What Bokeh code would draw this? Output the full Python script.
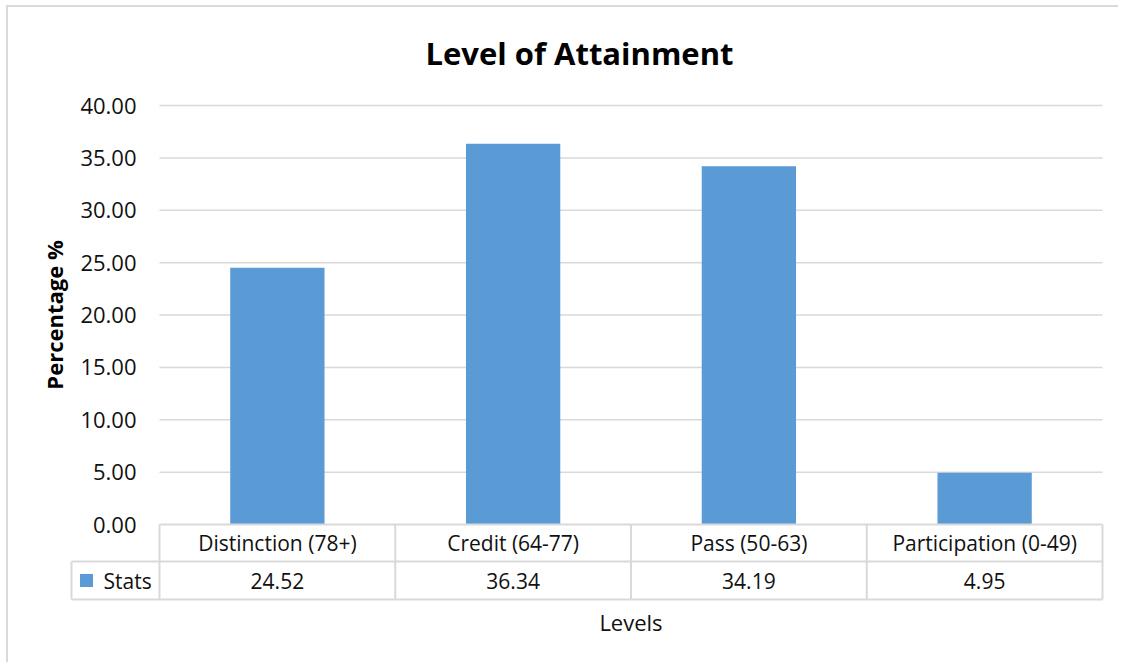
from bokeh.plotting import figure
from bokeh.models import FixedTicker, NumeralTickFormatter, ColumnDataSource, Range1d
from bokeh.embed import file_html
from bokeh.resources import INLINE
from bokeh.core.properties import value

# ---------------- data ----------------
categories = ["Distinction (78+)", "Credit (64-77)", "Pass (50-63)", "Participation (0-49)"]
stats = [24.52, 36.34, 34.19, 4.95]
series_name = "Stats"
y_ticks = [0, 5, 10, 15, 20, 25, 30, 35, 40]
title_text = "Level of Attainment"
y_label = "Percentage %"
x_label = "Levels"

# ---------------- style ----------------
BAR = "#5b9bd5"
LINE = "#d9d9d9"
TXT = "#111111"
FONT = "Open Sans"

# ---------------- layout (canvas pixels) ----------------
W, H = 1112, 657
FRAME_L, FRAME_R, FRAME_T, FRAME_B = 20, 1096, 84, 657
PLOT_L, PLOT_R = 151, 1094          # category columns span
TOP_PX, ZERO_PX = 98, 517           # pixel rows of top tick and of 0
ROW1_PX, ROW2_PX = 554, 592         # table row bottoms
LEG_L_PX = 63                       # legend cell left edge
XLABEL_PX = 614                     # x axis title row

n = len(categories)
col_px = (PLOT_R - PLOT_L) / n
ymax = max(y_ticks)
ppu = (ZERO_PX - TOP_PX) / ymax


def px_x(px):
    return -0.5 + (px - PLOT_L) / col_px


def px_y(py):
    return -(py - ZERO_PX) / ppu


x_start, x_end = px_x(FRAME_L), px_x(FRAME_R)
y_start, y_end = px_y(FRAME_B), px_y(FRAME_T)
y_row1 = px_y(ROW1_PX)
y_row2 = px_y(ROW2_PX)
x_leg = px_x(LEG_L_PX)
x_left, x_right = -0.5, n - 0.5

p = figure(
    width=W, height=H,
    x_range=Range1d(x_start, x_end), y_range=Range1d(y_start, y_end),
    output_backend="svg", toolbar_location=None,
    min_border_left=FRAME_L, min_border_right=W - FRAME_R,
    min_border_top=FRAME_T, min_border_bottom=H - FRAME_B,
)
p.styles = {"border-top": "2px solid #d9d9d9", "border-left": "2px solid #d9d9d9",
            "margin-left": "6px", "margin-top": "5px"}
p.outline_line_color = None
p.background_fill_color = "white"
p.border_fill_color = "white"
p.xgrid.visible = False
p.ygrid.visible = False
p.xaxis.visible = False

# title
p.title.text = title_text
p.title.align = "left"
p.title.offset = 397
p.title.text_font = FONT
p.title.text_font_size = "31px"
p.title.text_font_style = "bold"
p.title.text_color = "#000000"
p.title.standoff = 35

# y axis
ya = p.yaxis[0]
ya.ticker = FixedTicker(ticks=y_ticks)
ya.formatter = NumeralTickFormatter(format="0.00")
ya.bounds = (0, ymax)
ya.fixed_location = -0.5
ya.axis_line_color = None
ya.major_tick_line_color = None
ya.minor_tick_line_color = None
ya.major_tick_out = 0
ya.major_tick_in = 0
ya.major_label_standoff = 23
ya.major_label_text_font = FONT
ya.major_label_text_font_size = "22px"
ya.major_label_text_color = TXT
ya.axis_label = y_label
ya.axis_label_text_font = FONT
ya.axis_label_text_font_size = "22px"
ya.axis_label_text_font_style = "bold"
ya.axis_label_text_color = "#000000"
ya.axis_label_standoff = 8

# gridlines
g = y_ticks[1:]
grid_src = ColumnDataSource(dict(x0=[x_left] * len(g), x1=[x_right] * len(g), y=g))
p.segment(x0="x0", x1="x1", y0="y", y1="y", source=grid_src, line_color=LINE, line_width=1.5)

# bars
idx = list(range(n))
bar_src = ColumnDataSource(dict(x=idx, top=stats, cat=categories))
p.vbar(x="x", width=0.4, top="top", bottom=0, source=bar_src, fill_color=BAR, line_color=None)

# data table lines
hx0 = [x_left, x_leg, x_leg]
hx1 = [x_right, x_right, x_right]
hy = [0, y_row1, y_row2]
p.segment(x0=hx0, x1=hx1, y0=hy, y1=hy, line_color=LINE, line_width=2)
vx = [i - 0.5 for i in range(n + 1)] + [x_leg]
vy0 = [0] * (n + 1) + [y_row1]
vy1 = [y_row2] * (n + 2)
p.segment(x0=vx, x1=vx, y0=vy0, y1=vy1, line_color=LINE, line_width=2)

# table texts
p.text(x=idx, y=[(0 + y_row1) / 2] * n, text=categories, text_align="center",
       text_baseline="middle", text_font=value(FONT), text_font_size="21px", text_color=TXT)
p.text(x=idx, y=[(y_row1 + y_row2) / 2] * n, text=[f"{v:.2f}" for v in stats],
       text_align="center", text_baseline="middle", text_font=value(FONT),
       text_font_size="21px", text_color=TXT)

# legend key in table
p.scatter(x=[px_x(78)], y=[(y_row1 + y_row2) / 2], marker="square", size=13,
          fill_color=BAR, line_color=None)
p.text(x=[px_x(95)], y=[(y_row1 + y_row2) / 2], text=[series_name], text_align="left",
       text_baseline="middle", text_font=value(FONT), text_font_size="21px", text_color=TXT)

# x axis title
p.text(x=[(x_left + x_right) / 2], y=[px_y(XLABEL_PX)], text=[x_label], text_align="center",
       text_baseline="middle", text_font=value(FONT), text_font_size="22px", text_color=TXT)

open("out.html", "w").write(file_html(p, INLINE))
